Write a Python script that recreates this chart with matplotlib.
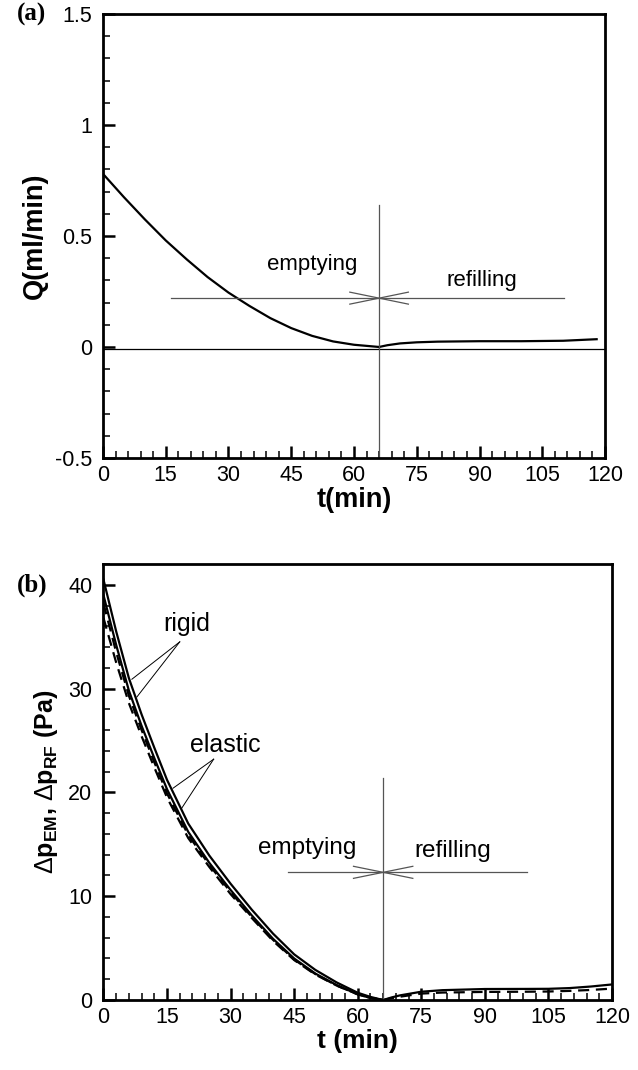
import numpy as np
import matplotlib
matplotlib.use("Agg")
import matplotlib.pyplot as plt
from matplotlib.ticker import MultipleLocator

plt.rcParams['font.family'] = ['Liberation Sans', 'DejaVu Sans']
plt.rcParams['mathtext.fontset'] = 'custom'
plt.rcParams['mathtext.rm'] = 'Liberation Sans'
plt.rcParams['mathtext.bf'] = 'Liberation Sans:bold'

# ── Data: panel (a) flow rate ────────────────────────────────────────────────
t_q_em = [0, 5, 10, 15, 20, 25, 30, 35, 40, 45, 50, 55, 60, 66]
q_em   = [0.78, 0.675, 0.575, 0.48, 0.395, 0.315, 0.245, 0.185, 0.13,
          0.085, 0.05, 0.025, 0.01, 0.0]
t_q_rf = [66, 68, 71, 75, 80, 90, 100, 110, 118]
q_rf   = [0.0, 0.008, 0.016, 0.021, 0.024, 0.026, 0.026, 0.028, 0.035]
Q_BASE = -0.008

# ── Data: panel (b) pressure drop ────────────────────────────────────────────
t_p_em      = [0, 3, 6, 9, 12, 15, 20, 25, 30, 35, 40, 45, 50, 55, 60, 63, 66]
p_rigid_1   = [40.5, 35.5, 31.0, 27.5, 24.3, 21.2, 17.0, 13.9, 11.2, 8.7,
               6.4, 4.4, 2.9, 1.7, 0.7, 0.3, 0.0]
p_rigid_2   = [39.0, 34.2, 29.8, 26.4, 23.3, 20.3, 16.2, 13.2, 10.6, 8.15,
               5.9, 4.0, 2.55, 1.45, 0.55, 0.2, 0.0]
p_elastic_1 = [38.2, 33.5, 29.3, 26.0, 22.9, 19.9, 15.9, 13.0, 10.4, 8.0,
               5.8, 3.9, 2.5, 1.4, 0.55, 0.2, 0.0]
p_elastic_2 = [36.8, 32.5, 28.6, 25.4, 22.4, 19.5, 15.6, 12.8, 10.2, 7.9,
               5.7, 3.85, 2.45, 1.4, 0.55, 0.2, 0.0]

t_p_rf         = [66, 68, 70, 75, 80, 90, 100, 105, 110, 115, 120]
p_rf_rigid     = [0.0, 0.25, 0.45, 0.8, 0.95, 1.06, 1.07, 1.08, 1.15, 1.3, 1.5]
p_rf_elastic   = [0.0, 0.18, 0.32, 0.62, 0.72, 0.78, 0.8, 0.82, 0.88, 0.97, 1.1]

T_SWITCH = 66

LINE_CLR = '#555555'


def phase_marks(ax, y, x_left, x_right, y_top, y_bot, head_dx, head_dy):
    ax.plot([T_SWITCH, T_SWITCH], [y_bot, y_top], color=LINE_CLR, lw=0.9)
    ax.plot([x_left, T_SWITCH], [y, y], color=LINE_CLR, lw=0.9)
    ax.plot([T_SWITCH, x_right], [y, y], color=LINE_CLR, lw=0.9)
    for s in (-1, 1):
        ax.plot([T_SWITCH + s * head_dx, T_SWITCH, T_SWITCH + s * head_dx],
                [y + head_dy, y, y - head_dy], color=LINE_CLR, lw=0.9)


def style_axes(ax):
    for sp in ax.spines.values():
        sp.set_linewidth(2.0)
    ax.tick_params(which='both', direction='in', top=False, right=False,
                   labelsize=15.5)
    ax.tick_params(which='major', length=8.5, width=1.8)
    ax.tick_params(which='minor', length=5, width=1.1)
    ax.tick_params(axis='y', which='both', pad=8)
    ax.tick_params(axis='x', which='both', pad=5)
    ax.set_xlim(0, 120)
    ax.xaxis.set_major_locator(MultipleLocator(15))
    ax.xaxis.set_minor_locator(MultipleLocator(3))


fig = plt.figure(figsize=(6.38, 10.70), dpi=100)

# ── Panel (a) ────────────────────────────────────────────────────────────────
ax_a = fig.add_axes([0.1614, 0.5720, 0.9483 - 0.1614, 0.9869 - 0.5720])
style_axes(ax_a)
ax_a.set_ylim(-0.5, 1.5)
ax_a.yaxis.set_major_locator(MultipleLocator(0.5))
ax_a.yaxis.set_minor_locator(MultipleLocator(0.1))
ax_a.set_yticks([-0.5, 0, 0.5, 1, 1.5])
ax_a.set_yticklabels(['-0.5', '0', '0.5', '1', '1.5'])

ax_a.axhline(Q_BASE, color='black', lw=0.9)
ax_a.plot(t_q_em, q_em, color='black', lw=1.6)
ax_a.plot(t_q_rf, q_rf, color='black', lw=1.6)
phase_marks(ax_a, 0.22, 16.2, 110.3, 0.64, -0.5, 7.0, 0.027)
ax_a.text(50, 0.37, 'emptying', fontsize=16, ha='center', va='center')
ax_a.text(90.6, 0.30, 'refilling', fontsize=16, ha='center', va='center')

ax_a.set_xlabel('t(min)', fontsize=19.5, fontweight='bold', labelpad=1)
ax_a.set_ylabel('Q(ml/min)', fontsize=19.5, fontweight='bold', labelpad=5)
fig.text(0.026, 0.9869, '(a)', fontsize=18, fontweight='bold',
         family='Liberation Serif', ha='left', va='center')

# ── Panel (b) ────────────────────────────────────────────────────────────────
ax_b = fig.add_axes([0.1622, 0.0654, 0.9592 - 0.1622, 0.4729 - 0.0654])
style_axes(ax_b)
ax_b.set_ylim(0, 42)
ax_b.yaxis.set_major_locator(MultipleLocator(10))
ax_b.yaxis.set_minor_locator(MultipleLocator(2))

ax_b.plot(t_p_em, p_rigid_1, color='black', lw=1.6)
ax_b.plot(t_p_em, p_rigid_2, color='black', lw=1.6)
ax_b.plot(t_p_em, p_elastic_1, color='black', lw=1.6, ls=(0, (5, 3)))
ax_b.plot(t_p_em, p_elastic_2, color='black', lw=1.6, ls=(0, (5, 3)))
ax_b.plot(t_p_rf, p_rf_rigid, color='black', lw=1.6)
ax_b.plot(t_p_rf, p_rf_elastic, color='black', lw=1.6, ls=(0, (5, 3)))

phase_marks(ax_b, 12.3, 43.5, 100, 21.4, 0, 7.0, 0.58)
ax_b.text(48, 14.6, 'emptying', fontsize=17.5, ha='center', va='center')
ax_b.text(82.5, 14.4, 'refilling', fontsize=17.5, ha='center', va='center')

# pointer lines
ax_b.plot([18, 6.7], [34.5, 30.9], color='black', lw=0.7)
ax_b.plot([18, 7.9], [34.5, 29.2], color='black', lw=0.7)
ax_b.plot([26, 16.4], [23.2, 20.4], color='black', lw=0.7)
ax_b.plot([26, 18.5], [23.2, 18.5], color='black', lw=0.7)
ax_b.text(19.7, 36.2, 'rigid', fontsize=18, ha='center', va='center')
ax_b.text(28.7, 24.6, 'elastic', fontsize=18, ha='center', va='center')

ax_b.set_xlabel('t (min)', fontsize=19, fontweight='bold', labelpad=1)
ax_b.set_ylabel(r'$\Delta$p$_{\mathbf{EM}}$, $\Delta$p$_{\mathbf{RF}}$ (Pa)',
                fontsize=18, fontweight='bold', labelpad=6)
fig.text(0.026, 1 - 585 / 1070, '(b)', fontsize=18, fontweight='bold',
         family='Liberation Serif', ha='left', va='center')

fig.savefig('out.png', dpi=100)
